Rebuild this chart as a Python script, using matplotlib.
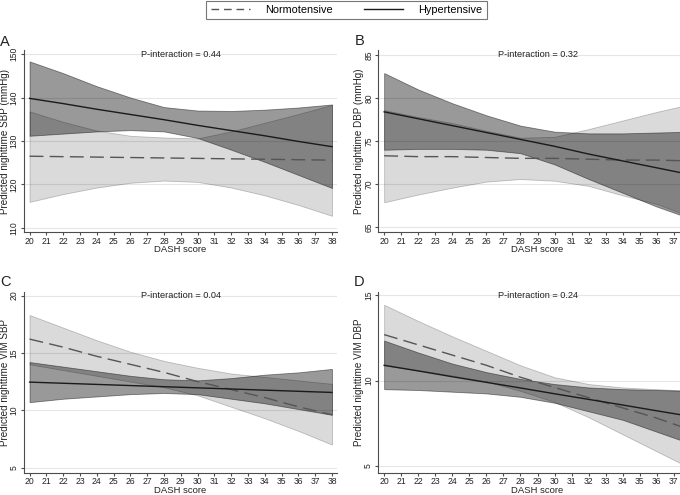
import matplotlib
matplotlib.use("Agg")
import matplotlib.pyplot as plt
from matplotlib.lines import Line2D
import numpy as np

plt.rcParams['font.family'] = ['Liberation Sans', 'DejaVu Sans']

# ---------------- data ----------------
dash = [20, 22, 24, 26, 28, 30, 32, 34, 36, 38]

# Panel A: nighttime SBP
a_norm = [126.5, 126.4, 126.3, 126.2, 126.1, 126.0, 125.9, 125.8, 125.7, 125.6]
a_norm_hi = [136.8, 134.4, 132.4, 131.2, 130.8, 130.6, 132.2, 134.2, 136.2, 138.3]
a_norm_lo = [116.0, 117.8, 119.3, 120.4, 120.9, 120.6, 119.3, 117.5, 115.3, 112.8]
a_hyp = [139.8, 138.6, 137.3, 136.1, 134.9, 133.6, 132.4, 131.2, 129.9, 128.7]
a_hyp_hi = [148.3, 145.6, 142.6, 140.0, 137.8, 137.0, 136.9, 137.2, 137.7, 138.4]
a_hyp_lo = [131.2, 131.7, 132.2, 132.5, 132.2, 130.7, 128.0, 125.2, 122.2, 119.2]

# Panel B: nighttime DBP
b_norm = [73.3, 73.2, 73.2, 73.1, 73.0, 73.0, 72.9, 72.8, 72.8, 72.7]
b_norm_hi = [78.6, 77.8, 77.1, 76.2, 75.4, 75.5, 76.4, 77.4, 78.4, 79.3]
b_norm_lo = [67.9, 68.8, 69.6, 70.3, 70.6, 70.4, 69.8, 68.7, 67.7, 66.2]
b_hyp = [78.4, 77.6, 76.8, 76.0, 75.2, 74.4, 73.5, 72.7, 71.9, 71.1]
b_hyp_hi = [82.9, 81.0, 79.4, 78.0, 76.8, 76.1, 75.9, 75.9, 76.0, 76.1]
b_hyp_lo = [74.0, 74.1, 74.1, 74.0, 73.6, 72.3, 70.6, 69.0, 67.4, 66.0]

# Panel C: nighttime VIM SBP
c_norm = [16.2, 15.5, 14.7, 14.0, 13.3, 12.5, 11.8, 11.1, 10.3, 9.6]
c_norm_hi = [18.3, 17.2, 16.1, 15.1, 14.3, 13.7, 13.2, 12.9, 12.6, 12.3]
c_norm_lo = [14.0, 13.5, 13.0, 12.5, 12.0, 11.3, 10.3, 9.3, 8.2, 7.0]
c_hyp = [12.45, 12.35, 12.25, 12.15, 12.05, 11.95, 11.85, 11.75, 11.65, 11.55]
c_hyp_hi = [14.2, 13.8, 13.4, 13.0, 12.7, 12.6, 12.8, 13.1, 13.3, 13.6]
c_hyp_lo = [10.7, 11.0, 11.2, 11.4, 11.5, 11.4, 11.0, 10.6, 10.1, 9.6]

# Panel D: nighttime VIM DBP
d_norm = [12.7, 12.1, 11.5, 10.9, 10.2, 9.6, 9.0, 8.4, 7.8, 7.1]
d_norm_hi = [14.45, 13.5, 12.6, 11.75, 10.9, 10.2, 9.8, 9.6, 9.5, 9.4]
d_norm_lo = [10.9, 10.6, 10.3, 9.95, 9.4, 8.75, 7.85, 6.85, 5.85, 4.85]
d_hyp = [10.9, 10.57, 10.23, 9.9, 9.57, 9.23, 8.9, 8.57, 8.23, 7.9]
d_hyp_hi = [12.35, 11.65, 11.0, 10.5, 10.1, 9.8, 9.6, 9.5, 9.45, 9.4]
d_hyp_lo = [9.5, 9.45, 9.35, 9.25, 9.05, 8.7, 8.2, 7.7, 7.0, 6.3]

xticks_full = list(range(20, 39))
xticks_cut = list(range(20, 38))
panel_letters = ["A", "B", "C", "D"]
ylabels = ["Predicted nighttime SBP (mmHg)", "Predicted nighttime DBP (mmHg)",
           "Predicted nighttime VIM SBP", "Predicted nighttime VIM DBP"]
pvalues = ["P-interaction = 0.44", "P-interaction = 0.32",
           "P-interaction = 0.04", "P-interaction = 0.24"]
yticks_list = [[110, 120, 130, 140, 150], [65, 70, 75, 80, 85],
               [5, 10, 15, 20], [5, 10, 15]]
ylims = [(109.08, 150.92), (64.45, 85.58), (4.57, 20.35), (4.61, 15.23)]
legend_labels = ["Normotensive", "Hypertensive"]

panels = [
    (a_norm, a_norm_lo, a_norm_hi, a_hyp, a_hyp_lo, a_hyp_hi),
    (b_norm, b_norm_lo, b_norm_hi, b_hyp, b_hyp_lo, b_hyp_hi),
    (c_norm, c_norm_lo, c_norm_hi, c_hyp, c_hyp_lo, c_hyp_hi),
    (d_norm, d_norm_lo, d_norm_hi, d_hyp, d_hyp_lo, d_hyp_hi),
]

# ---------------- layout ----------------
W, H = 680, 495
fig = plt.figure(figsize=(W / 100, H / 100), dpi=100)

# pixel boxes: left, top, right, bottom (right panels run past the edge)
boxes = [(23.5, 50, 337, 232), (378, 50, 696, 232),
         (23.5, 291.5, 337, 472.5), (378, 291.5, 696, 472.5)]
letter_pos = [(0, 41.5), (355, 41), (0, 282.5), (354, 282.5)]
xtick_sets = [xticks_full, xticks_cut, xticks_full, xticks_cut]

norm_fill = (0, 0, 0, 0.145)
hyp_fill = (0, 0, 0, 0.40)
spine_col = "#4d4d4d"
txt_col = "#222222"

for i, (box, data) in enumerate(zip(boxes, panels)):
    l, t, r, b = box
    ax = fig.add_axes([l / W, 1 - b / H, (r - l) / W, (b - t) / H])
    nm, nlo, nhi, hm, hlo, hhi = data
    ax.fill_between(dash, nlo, nhi, facecolor=norm_fill,
                    edgecolor=(0, 0, 0, 0.22), linewidth=0.6, zorder=2)
    ax.fill_between(dash, hlo, hhi, facecolor=hyp_fill,
                    edgecolor=(0, 0, 0, 0.45), linewidth=0.6, zorder=3)
    ax.plot(dash, nm, color="#555555", lw=1.0, dashes=(10, 4.5), zorder=4)
    ax.plot(dash, hm, color="#1a1a1a", lw=1.0, zorder=5)

    ax.set_xlim(19.64, 38.30)
    ax.set_ylim(*ylims[i])
    ax.set_xticks(xtick_sets[i])
    ax.set_yticks(yticks_list[i])
    ax.grid(axis="y", color="#e6e6e6", lw=0.8, zorder=0)
    ax.set_axisbelow(True)
    for s in ["top", "right"]:
        ax.spines[s].set_visible(False)
    for s in ["left", "bottom"]:
        ax.spines[s].set_color(spine_col)
        ax.spines[s].set_linewidth(0.8)
    ax.tick_params(axis="both", colors=spine_col, length=2.5, width=0.8,
                   labelsize=6.2, labelcolor=txt_col)
    ax.tick_params(axis="x", pad=0.8)
    ax.tick_params(axis="y", pad=1.0)
    for lab in ax.get_yticklabels():
        lab.set_rotation(90)
        lab.set_va("center")
        lab.set_ha("right")

    ax.set_xlabel("DASH score", fontsize=6.8, color=txt_col)
    ax.xaxis.set_label_coords(0.5, -18.0 / (b - t))
    ax.xaxis.label.set_va("center")
    ax.set_ylabel(ylabels[i], fontsize=7.1, color=txt_col)
    ax.yaxis.set_label_coords(-18.5 / (r - l), 0.5)
    ax.yaxis.label.set_va("center")

    ax.text(29, yticks_list[i][-1], pvalues[i], ha="center", va="center",
            fontsize=6.6, color=txt_col, zorder=6)

    lx, ly = letter_pos[i]
    fig.text(lx / W, 1 - ly / H, panel_letters[i], ha="left", va="center",
             fontsize=10.5, color=txt_col)

# legend
handles = [Line2D([], [], color="#555555", lw=1.0, dashes=(5.5, 3.5)),
           Line2D([], [], color="#1a1a1a", lw=1.0)]
leg = fig.legend(handles, legend_labels, loc="upper center",
                 bbox_to_anchor=(346.5 / W, 1 - 0.5 / H), ncol=2,
                 frameon=True, fancybox=False, fontsize=7.8,
                 handlelength=3.6, handletextpad=1.4, columnspacing=2.9,
                 borderpad=0.4, borderaxespad=0)
leg.get_frame().set_edgecolor("#555555")
leg.get_frame().set_linewidth(0.8)

fig.savefig("out.png", dpi=100)
